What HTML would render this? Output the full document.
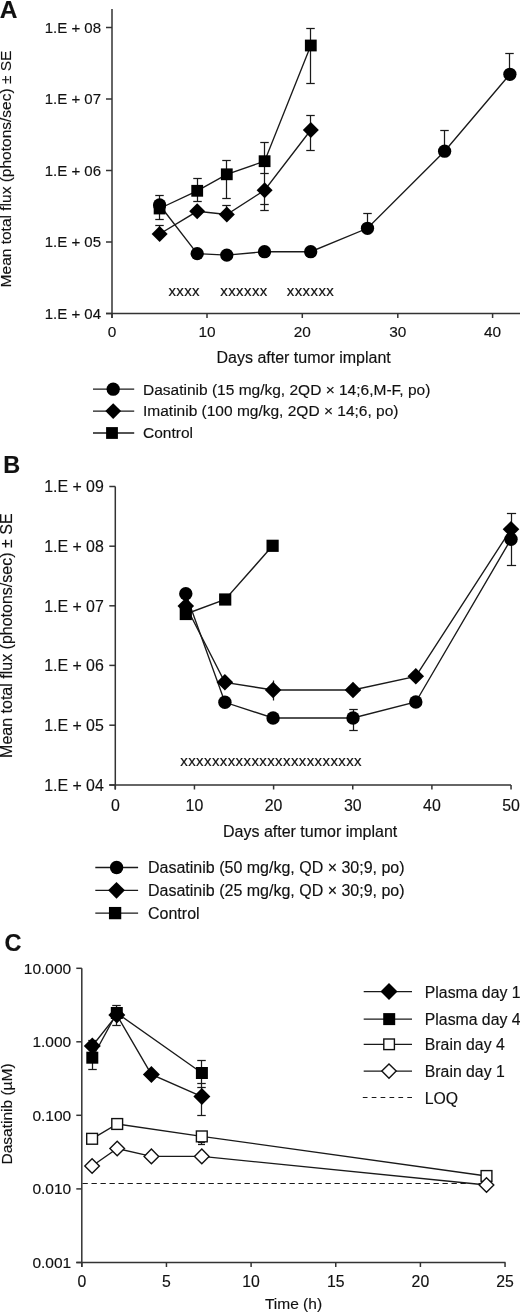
<!DOCTYPE html>
<html><head><meta charset="utf-8"><title>Figure</title>
<style>
html,body{margin:0;padding:0;background:#fff;}
svg{display:block;will-change:transform;}
text{font-family:"Liberation Sans", sans-serif;fill:#111;stroke:#111;stroke-width:0.15px;}
</style></head>
<body>
<svg width="520" height="1313" viewBox="0 0 520 1313">
<rect width="520" height="1313" fill="#fff"/>
<line x1="112" y1="9" x2="112" y2="318.0" stroke="#333" stroke-width="1.5" />
<line x1="106" y1="313.5" x2="520" y2="313.5" stroke="#333" stroke-width="1.5" />
<line x1="106" y1="27.5" x2="112" y2="27.5" stroke="#333" stroke-width="1.5" />
<text x="101" y="32.8" font-size="15" text-anchor="end" font-weight="normal" >1.E + 08</text>
<line x1="106" y1="99" x2="112" y2="99" stroke="#333" stroke-width="1.5" />
<text x="101" y="104.3" font-size="15" text-anchor="end" font-weight="normal" >1.E + 07</text>
<line x1="106" y1="170.5" x2="112" y2="170.5" stroke="#333" stroke-width="1.5" />
<text x="101" y="175.8" font-size="15" text-anchor="end" font-weight="normal" >1.E + 06</text>
<line x1="106" y1="242" x2="112" y2="242" stroke="#333" stroke-width="1.5" />
<text x="101" y="247.3" font-size="15" text-anchor="end" font-weight="normal" >1.E + 05</text>
<line x1="106" y1="313.5" x2="112" y2="313.5" stroke="#333" stroke-width="1.5" />
<text x="101" y="318.8" font-size="15" text-anchor="end" font-weight="normal" >1.E + 04</text>
<line x1="112" y1="313.5" x2="112" y2="318.0" stroke="#333" stroke-width="1.5" />
<text x="112" y="337.2" font-size="15.4" text-anchor="middle" font-weight="normal" >0</text>
<line x1="207" y1="313.5" x2="207" y2="318.0" stroke="#333" stroke-width="1.5" />
<text x="207" y="337.2" font-size="15.4" text-anchor="middle" font-weight="normal" >10</text>
<line x1="302.3" y1="313.5" x2="302.3" y2="318.0" stroke="#333" stroke-width="1.5" />
<text x="302.3" y="337.2" font-size="15.4" text-anchor="middle" font-weight="normal" >20</text>
<line x1="397.8" y1="313.5" x2="397.8" y2="318.0" stroke="#333" stroke-width="1.5" />
<text x="397.8" y="337.2" font-size="15.4" text-anchor="middle" font-weight="normal" >30</text>
<line x1="492.6" y1="313.5" x2="492.6" y2="318.0" stroke="#333" stroke-width="1.5" />
<text x="492.6" y="337.2" font-size="15.4" text-anchor="middle" font-weight="normal" >40</text>
<text x="216.5" y="362.8" font-size="16" text-anchor="start" font-weight="normal" >Days after tumor implant</text>
<text x="168.4" y="295.6" font-size="15" text-anchor="start" font-weight="normal" letter-spacing="0.4">xxxx</text>
<text x="220.3" y="295.6" font-size="15" text-anchor="start" font-weight="normal" letter-spacing="0.4">xxxxxx</text>
<text x="286.8" y="295.6" font-size="15" text-anchor="start" font-weight="normal" letter-spacing="0.4">xxxxxx</text>
<text transform="translate(10.9,287.4) rotate(-90)" font-size="15.5">Mean total flux (photons/sec) ± SE</text>
<text x="-0.3" y="17.8" font-size="24.5" text-anchor="start" font-weight="bold" >A</text>
<line x1="159.5" y1="195.5" x2="159.5" y2="219.5" stroke="#1a1a1a" stroke-width="1.25" />
<line x1="155.25" y1="195.5" x2="163.75" y2="195.5" stroke="#1a1a1a" stroke-width="1.25" />
<line x1="155.25" y1="219.5" x2="163.75" y2="219.5" stroke="#1a1a1a" stroke-width="1.25" />
<line x1="159.5" y1="225.5" x2="159.5" y2="234.5" stroke="#1a1a1a" stroke-width="1.25" />
<line x1="155.25" y1="225.5" x2="163.75" y2="225.5" stroke="#1a1a1a" stroke-width="1.25" />
<line x1="155.25" y1="234.5" x2="163.75" y2="234.5" stroke="#1a1a1a" stroke-width="1.25" />
<line x1="197.5" y1="178.5" x2="197.5" y2="201.5" stroke="#1a1a1a" stroke-width="1.25" />
<line x1="193.25" y1="178.5" x2="201.75" y2="178.5" stroke="#1a1a1a" stroke-width="1.25" />
<line x1="193.25" y1="201.5" x2="201.75" y2="201.5" stroke="#1a1a1a" stroke-width="1.25" />
<line x1="226.5" y1="160.5" x2="226.5" y2="198.5" stroke="#1a1a1a" stroke-width="1.25" />
<line x1="222.25" y1="160.5" x2="230.75" y2="160.5" stroke="#1a1a1a" stroke-width="1.25" />
<line x1="222.25" y1="198.5" x2="230.75" y2="198.5" stroke="#1a1a1a" stroke-width="1.25" />
<line x1="226.5" y1="205.5" x2="226.5" y2="214.5" stroke="#1a1a1a" stroke-width="1.25" />
<line x1="222.25" y1="205.5" x2="230.75" y2="205.5" stroke="#1a1a1a" stroke-width="1.25" />
<line x1="222.25" y1="214.5" x2="230.75" y2="214.5" stroke="#1a1a1a" stroke-width="1.25" />
<line x1="264.5" y1="142.5" x2="264.5" y2="210.5" stroke="#1a1a1a" stroke-width="1.25" />
<line x1="260.25" y1="142.5" x2="268.75" y2="142.5" stroke="#1a1a1a" stroke-width="1.25" />
<line x1="260.25" y1="173.5" x2="268.75" y2="173.5" stroke="#1a1a1a" stroke-width="1.25" />
<line x1="260.25" y1="204.5" x2="268.75" y2="204.5" stroke="#1a1a1a" stroke-width="1.25" />
<line x1="260.25" y1="210.5" x2="268.75" y2="210.5" stroke="#1a1a1a" stroke-width="1.25" />
<line x1="310.5" y1="28.5" x2="310.5" y2="83.5" stroke="#1a1a1a" stroke-width="1.25" />
<line x1="306.25" y1="28.5" x2="314.75" y2="28.5" stroke="#1a1a1a" stroke-width="1.25" />
<line x1="306.25" y1="83.5" x2="314.75" y2="83.5" stroke="#1a1a1a" stroke-width="1.25" />
<line x1="310.5" y1="115.5" x2="310.5" y2="150.5" stroke="#1a1a1a" stroke-width="1.25" />
<line x1="306.25" y1="115.5" x2="314.75" y2="115.5" stroke="#1a1a1a" stroke-width="1.25" />
<line x1="306.25" y1="150.5" x2="314.75" y2="150.5" stroke="#1a1a1a" stroke-width="1.25" />
<line x1="367.5" y1="213.5" x2="367.5" y2="228.5" stroke="#1a1a1a" stroke-width="1.25" />
<line x1="363.25" y1="213.5" x2="371.75" y2="213.5" stroke="#1a1a1a" stroke-width="1.25" />
<line x1="363.25" y1="228.5" x2="371.75" y2="228.5" stroke="#1a1a1a" stroke-width="1.25" />
<line x1="444.5" y1="130.5" x2="444.5" y2="151.5" stroke="#1a1a1a" stroke-width="1.25" />
<line x1="440.25" y1="130.5" x2="448.75" y2="130.5" stroke="#1a1a1a" stroke-width="1.25" />
<line x1="440.25" y1="151.5" x2="448.75" y2="151.5" stroke="#1a1a1a" stroke-width="1.25" />
<line x1="509.5" y1="53.5" x2="509.5" y2="74.5" stroke="#1a1a1a" stroke-width="1.25" />
<line x1="505.25" y1="53.5" x2="513.75" y2="53.5" stroke="#1a1a1a" stroke-width="1.25" />
<line x1="505.25" y1="74.5" x2="513.75" y2="74.5" stroke="#1a1a1a" stroke-width="1.25" />
<polyline points="159.6,205 197.2,253.6 226.8,255.1 264.5,251.7 310.7,251.7 367.5,228.3 444.6,151.2 509.9,74.3" fill="none" stroke="#1a1a1a" stroke-width="1.35"/>
<polyline points="159.6,208.5 197.2,190.8 226.8,174.3 264.6,161.2 310.8,45.5" fill="none" stroke="#1a1a1a" stroke-width="1.35"/>
<polyline points="159.6,234 197.2,211.3 226.8,214.5 264.6,190.2 310.8,130" fill="none" stroke="#1a1a1a" stroke-width="1.35"/>
<circle cx="159.6" cy="205" r="6.65" fill="#000"/>
<circle cx="197.2" cy="253.6" r="6.65" fill="#000"/>
<circle cx="226.8" cy="255.1" r="6.65" fill="#000"/>
<circle cx="264.5" cy="251.7" r="6.65" fill="#000"/>
<circle cx="310.7" cy="251.7" r="6.65" fill="#000"/>
<circle cx="367.5" cy="228.3" r="6.65" fill="#000"/>
<circle cx="444.6" cy="151.2" r="6.65" fill="#000"/>
<circle cx="509.9" cy="74.3" r="6.65" fill="#000"/>
<rect x="153.7" y="202.6" width="11.8" height="11.8" fill="#000"/>
<rect x="191.29999999999998" y="184.9" width="11.8" height="11.8" fill="#000"/>
<rect x="220.9" y="168.4" width="11.8" height="11.8" fill="#000"/>
<rect x="258.70000000000005" y="155.29999999999998" width="11.8" height="11.8" fill="#000"/>
<rect x="304.90000000000003" y="39.6" width="11.8" height="11.8" fill="#000"/>
<polygon points="159.6,226 167.6,234 159.6,242 151.6,234" fill="#000"/>
<polygon points="197.2,203.3 205.2,211.3 197.2,219.3 189.2,211.3" fill="#000"/>
<polygon points="226.8,206.5 234.8,214.5 226.8,222.5 218.8,214.5" fill="#000"/>
<polygon points="264.6,182.2 272.6,190.2 264.6,198.2 256.6,190.2" fill="#000"/>
<polygon points="310.8,122 318.8,130 310.8,138 302.8,130" fill="#000"/>
<line x1="93" y1="389.2" x2="134.2" y2="389.2" stroke="#1a1a1a" stroke-width="1.3" />
<circle cx="113.2" cy="389.2" r="6.65" fill="#000"/>
<text x="143" y="394.5" font-size="15.5" text-anchor="start" font-weight="normal" >Dasatinib (15 mg/kg, 2QD × 14;6,M-F, po)</text>
<line x1="93" y1="411.1" x2="134.2" y2="411.1" stroke="#1a1a1a" stroke-width="1.3" />
<polygon points="113.2,403.20000000000005 121.10000000000001,411.1 113.2,419.0 105.3,411.1" fill="#000"/>
<text x="143" y="416.40000000000003" font-size="15.5" text-anchor="start" font-weight="normal" >Imatinib (100 mg/kg, 2QD × 14;6, po)</text>
<line x1="93" y1="433" x2="134.2" y2="433" stroke="#1a1a1a" stroke-width="1.3" />
<rect x="106.1" y="427.1" width="11.8" height="11.8" fill="#000"/>
<text x="143" y="438.3" font-size="15.5" text-anchor="start" font-weight="normal" >Control</text>
<line x1="115.3" y1="486.5" x2="115.3" y2="789.5" stroke="#333" stroke-width="1.5" />
<line x1="109.3" y1="785" x2="511" y2="785" stroke="#333" stroke-width="1.5" />
<line x1="109.3" y1="486.5" x2="115.3" y2="486.5" stroke="#333" stroke-width="1.5" />
<text x="103.8" y="492.2" font-size="15.9" text-anchor="end" font-weight="normal" >1.E + 09</text>
<line x1="109.3" y1="546.2" x2="115.3" y2="546.2" stroke="#333" stroke-width="1.5" />
<text x="103.8" y="551.9000000000001" font-size="15.9" text-anchor="end" font-weight="normal" >1.E + 08</text>
<line x1="109.3" y1="605.8" x2="115.3" y2="605.8" stroke="#333" stroke-width="1.5" />
<text x="103.8" y="611.5" font-size="15.9" text-anchor="end" font-weight="normal" >1.E + 07</text>
<line x1="109.3" y1="665.4" x2="115.3" y2="665.4" stroke="#333" stroke-width="1.5" />
<text x="103.8" y="671.1" font-size="15.9" text-anchor="end" font-weight="normal" >1.E + 06</text>
<line x1="109.3" y1="725.2" x2="115.3" y2="725.2" stroke="#333" stroke-width="1.5" />
<text x="103.8" y="730.9000000000001" font-size="15.9" text-anchor="end" font-weight="normal" >1.E + 05</text>
<line x1="109.3" y1="785" x2="115.3" y2="785" stroke="#333" stroke-width="1.5" />
<text x="103.8" y="790.7" font-size="15.9" text-anchor="end" font-weight="normal" >1.E + 04</text>
<line x1="115.3" y1="785" x2="115.3" y2="789.5" stroke="#333" stroke-width="1.5" />
<text x="115.3" y="810.5" font-size="15.9" text-anchor="middle" font-weight="normal" >0</text>
<line x1="194.45" y1="785" x2="194.45" y2="789.5" stroke="#333" stroke-width="1.5" />
<text x="194.45" y="810.5" font-size="15.9" text-anchor="middle" font-weight="normal" >10</text>
<line x1="273.6" y1="785" x2="273.6" y2="789.5" stroke="#333" stroke-width="1.5" />
<text x="273.6" y="810.5" font-size="15.9" text-anchor="middle" font-weight="normal" >20</text>
<line x1="352.75" y1="785" x2="352.75" y2="789.5" stroke="#333" stroke-width="1.5" />
<text x="352.75" y="810.5" font-size="15.9" text-anchor="middle" font-weight="normal" >30</text>
<line x1="431.90000000000003" y1="785" x2="431.90000000000003" y2="789.5" stroke="#333" stroke-width="1.5" />
<text x="431.90000000000003" y="810.5" font-size="15.9" text-anchor="middle" font-weight="normal" >40</text>
<line x1="511.05" y1="785" x2="511.05" y2="789.5" stroke="#333" stroke-width="1.5" />
<text x="511.05" y="810.5" font-size="15.9" text-anchor="middle" font-weight="normal" >50</text>
<text x="223" y="836.5" font-size="16" text-anchor="start" font-weight="normal" >Days after tumor implant</text>
<text x="180.3" y="766" font-size="15" text-anchor="start" font-weight="normal" letter-spacing="0.4">xxxxxxxxxxxxxxxxxxxxxxx</text>
<text transform="translate(12.2,757.9) rotate(-90)" font-size="16">Mean total flux (photons/sec) ± SE</text>
<text transform="translate(3.3,472.6) scale(1.02,1)" font-size="23" font-weight="bold">B</text>
<line x1="273.5" y1="680.5" x2="273.5" y2="700.5" stroke="#1a1a1a" stroke-width="1.25" />
<line x1="353.5" y1="709.5" x2="353.5" y2="730.5" stroke="#1a1a1a" stroke-width="1.25" />
<line x1="349.25" y1="709.5" x2="357.75" y2="709.5" stroke="#1a1a1a" stroke-width="1.25" />
<line x1="349.25" y1="730.5" x2="357.75" y2="730.5" stroke="#1a1a1a" stroke-width="1.25" />
<line x1="511.5" y1="513.5" x2="511.5" y2="565.5" stroke="#1a1a1a" stroke-width="1.25" />
<line x1="506.9" y1="513.5" x2="516.1" y2="513.5" stroke="#1a1a1a" stroke-width="1.25" />
<line x1="506.9" y1="565.5" x2="516.1" y2="565.5" stroke="#1a1a1a" stroke-width="1.25" />
<polyline points="185.8,614 225.2,599.5 272.6,545.8" fill="none" stroke="#1a1a1a" stroke-width="1.35"/>
<polyline points="185.8,593.8 224.9,702.3 273.1,718 353,718 415.8,702 511,539.2" fill="none" stroke="#1a1a1a" stroke-width="1.35"/>
<polyline points="185.8,606 224.9,682.3 273.1,690 353,690 415.8,676.3 511,529.2" fill="none" stroke="#1a1a1a" stroke-width="1.35"/>
<circle cx="185.8" cy="593.8" r="6.7" fill="#000"/>
<circle cx="224.9" cy="702.3" r="6.7" fill="#000"/>
<circle cx="273.1" cy="718" r="6.7" fill="#000"/>
<circle cx="353" cy="718" r="6.7" fill="#000"/>
<circle cx="415.8" cy="702" r="6.7" fill="#000"/>
<circle cx="511" cy="539.2" r="6.7" fill="#000"/>
<polygon points="185.8,597.7 194.10000000000002,606 185.8,614.3 177.5,606" fill="#000"/>
<polygon points="224.9,674.0 233.20000000000002,682.3 224.9,690.5999999999999 216.6,682.3" fill="#000"/>
<polygon points="273.1,681.7 281.40000000000003,690 273.1,698.3 264.8,690" fill="#000"/>
<polygon points="353,681.7 361.3,690 353,698.3 344.7,690" fill="#000"/>
<polygon points="415.8,668.0 424.1,676.3 415.8,684.5999999999999 407.5,676.3" fill="#000"/>
<polygon points="511,520.9000000000001 519.3,529.2 511,537.5 502.7,529.2" fill="#000"/>
<rect x="179.70000000000002" y="607.9" width="12.2" height="12.2" fill="#000"/>
<rect x="219.1" y="593.4" width="12.2" height="12.2" fill="#000"/>
<rect x="266.5" y="539.6999999999999" width="12.2" height="12.2" fill="#000"/>
<line x1="95.3" y1="867.5" x2="138.1" y2="867.5" stroke="#1a1a1a" stroke-width="1.3" />
<circle cx="116.6" cy="867.5" r="6.7" fill="#000"/>
<text x="148" y="873.1" font-size="16" text-anchor="start" font-weight="normal" >Dasatinib (50 mg/kg, QD × 30;9, po)</text>
<line x1="95.3" y1="890.3" x2="138.1" y2="890.3" stroke="#1a1a1a" stroke-width="1.3" />
<polygon points="116.5,881.9 124.9,890.3 116.5,898.6999999999999 108.1,890.3" fill="#000"/>
<text x="148" y="895.9" font-size="16" text-anchor="start" font-weight="normal" >Dasatinib (25 mg/kg, QD × 30;9, po)</text>
<line x1="95.3" y1="913.1" x2="138.1" y2="913.1" stroke="#1a1a1a" stroke-width="1.3" />
<rect x="108.94999999999999" y="906.95" width="12.3" height="12.3" fill="#000"/>
<text x="148" y="918.7" font-size="16" text-anchor="start" font-weight="normal" >Control</text>
<line x1="81.8" y1="968.3" x2="81.8" y2="1267.0" stroke="#333" stroke-width="1.5" />
<line x1="76.3" y1="1262.5" x2="505.5" y2="1262.5" stroke="#333" stroke-width="1.5" />
<line x1="76.3" y1="968.3" x2="81.8" y2="968.3" stroke="#333" stroke-width="1.5" />
<text x="71.2" y="973.8" font-size="15.5" text-anchor="end" font-weight="normal" >10.000</text>
<line x1="76.3" y1="1041.8" x2="81.8" y2="1041.8" stroke="#333" stroke-width="1.5" />
<text x="71.2" y="1047.3" font-size="15.5" text-anchor="end" font-weight="normal" >1.000</text>
<line x1="76.3" y1="1115.3" x2="81.8" y2="1115.3" stroke="#333" stroke-width="1.5" />
<text x="71.2" y="1120.8" font-size="15.5" text-anchor="end" font-weight="normal" >0.100</text>
<line x1="76.3" y1="1188.9" x2="81.8" y2="1188.9" stroke="#333" stroke-width="1.5" />
<text x="71.2" y="1194.4" font-size="15.5" text-anchor="end" font-weight="normal" >0.010</text>
<line x1="76.3" y1="1262.5" x2="81.8" y2="1262.5" stroke="#333" stroke-width="1.5" />
<text x="71.2" y="1268.0" font-size="15.5" text-anchor="end" font-weight="normal" >0.001</text>
<line x1="81.8" y1="1262.5" x2="81.8" y2="1267.0" stroke="#333" stroke-width="1.5" />
<text x="81.8" y="1287" font-size="15.8" text-anchor="middle" font-weight="normal" >0</text>
<line x1="166.45" y1="1262.5" x2="166.45" y2="1267.0" stroke="#333" stroke-width="1.5" />
<text x="166.45" y="1287" font-size="15.8" text-anchor="middle" font-weight="normal" >5</text>
<line x1="251.10000000000002" y1="1262.5" x2="251.10000000000002" y2="1267.0" stroke="#333" stroke-width="1.5" />
<text x="251.10000000000002" y="1287" font-size="15.8" text-anchor="middle" font-weight="normal" >10</text>
<line x1="335.75" y1="1262.5" x2="335.75" y2="1267.0" stroke="#333" stroke-width="1.5" />
<text x="335.75" y="1287" font-size="15.8" text-anchor="middle" font-weight="normal" >15</text>
<line x1="420.40000000000003" y1="1262.5" x2="420.40000000000003" y2="1267.0" stroke="#333" stroke-width="1.5" />
<text x="420.40000000000003" y="1287" font-size="15.8" text-anchor="middle" font-weight="normal" >20</text>
<line x1="505.05" y1="1262.5" x2="505.05" y2="1267.0" stroke="#333" stroke-width="1.5" />
<text x="505.05" y="1287" font-size="15.8" text-anchor="middle" font-weight="normal" >25</text>
<text x="293.5" y="1308.8" font-size="15.5" text-anchor="middle" font-weight="normal" >Time (h)</text>
<text transform="translate(12,1164.5) rotate(-90)" font-size="15.5">Dasatinib (µM)</text>
<text transform="translate(4.6,951.2)" font-size="23.5" font-weight="bold">C</text>
<line x1="82.5" y1="1183.5" x2="490" y2="1183.5" stroke="#1a1a1a" stroke-width="1.2" stroke-dasharray="5.3,3.7"/>
<line x1="92.5" y1="1040.5" x2="92.5" y2="1069.5" stroke="#1a1a1a" stroke-width="1.25" />
<line x1="88.25" y1="1040.5" x2="96.75" y2="1040.5" stroke="#1a1a1a" stroke-width="1.25" />
<line x1="88.25" y1="1069.5" x2="96.75" y2="1069.5" stroke="#1a1a1a" stroke-width="1.25" />
<line x1="116.5" y1="1005.5" x2="116.5" y2="1025.5" stroke="#1a1a1a" stroke-width="1.25" />
<line x1="112.25" y1="1005.5" x2="120.75" y2="1005.5" stroke="#1a1a1a" stroke-width="1.25" />
<line x1="112.25" y1="1025.5" x2="120.75" y2="1025.5" stroke="#1a1a1a" stroke-width="1.25" />
<line x1="201.5" y1="1060.5" x2="201.5" y2="1115.5" stroke="#1a1a1a" stroke-width="1.25" />
<line x1="197.25" y1="1060.5" x2="205.75" y2="1060.5" stroke="#1a1a1a" stroke-width="1.25" />
<line x1="197.25" y1="1083.5" x2="205.75" y2="1083.5" stroke="#1a1a1a" stroke-width="1.25" />
<line x1="197.25" y1="1087.5" x2="205.75" y2="1087.5" stroke="#1a1a1a" stroke-width="1.25" />
<line x1="197.25" y1="1115.5" x2="205.75" y2="1115.5" stroke="#1a1a1a" stroke-width="1.25" />
<line x1="201.5" y1="1142.5" x2="201.5" y2="1144.5" stroke="#1a1a1a" stroke-width="1.25" />
<line x1="198.0" y1="1142.5" x2="205.0" y2="1142.5" stroke="#1a1a1a" stroke-width="1.25" />
<line x1="198.0" y1="1144.5" x2="205.0" y2="1144.5" stroke="#1a1a1a" stroke-width="1.25" />
<polyline points="92.3,1046 116.8,1015 151.4,1074.4 201.9,1096.6" fill="none" stroke="#1a1a1a" stroke-width="1.35"/>
<polyline points="92.3,1057.7 116.8,1013 201.9,1073" fill="none" stroke="#1a1a1a" stroke-width="1.35"/>
<polyline points="92.1,1138.8 117.2,1124 201.8,1136.4 486.5,1176" fill="none" stroke="#1a1a1a" stroke-width="1.35"/>
<polyline points="92.1,1166 117.2,1148.5 151.4,1156.4 201.8,1156.4 486.5,1185" fill="none" stroke="#1a1a1a" stroke-width="1.35"/>
<rect x="86.3" y="1051.7" width="12" height="12" fill="#000"/>
<rect x="110.8" y="1007.0" width="12" height="12" fill="#000"/>
<rect x="195.9" y="1067.0" width="12" height="12" fill="#000"/>
<polygon points="92.3,1037.5 100.8,1046 92.3,1054.5 83.8,1046" fill="#000"/>
<polygon points="116.8,1006.5 125.3,1015 116.8,1023.5 108.3,1015" fill="#000"/>
<polygon points="151.4,1065.9 159.9,1074.4 151.4,1082.9 142.9,1074.4" fill="#000"/>
<polygon points="201.9,1088.1 210.4,1096.6 201.9,1105.1 193.4,1096.6" fill="#000"/>
<rect x="86.7" y="1133.4" width="10.799999999999999" height="10.799999999999999" fill="#fff" stroke="#111" stroke-width="1.4"/>
<rect x="111.80000000000001" y="1118.6000000000001" width="10.799999999999999" height="10.799999999999999" fill="#fff" stroke="#111" stroke-width="1.4"/>
<rect x="196.4" y="1131.0000000000002" width="10.799999999999999" height="10.799999999999999" fill="#fff" stroke="#111" stroke-width="1.4"/>
<rect x="481.09999999999997" y="1170.6000000000001" width="10.799999999999999" height="10.799999999999999" fill="#fff" stroke="#111" stroke-width="1.4"/>
<polygon points="92.1,1158.694 99.40599999999999,1166 92.1,1173.306 84.794,1166" fill="#fff" stroke="#111" stroke-width="1.4"/>
<polygon points="117.2,1141.194 124.506,1148.5 117.2,1155.806 109.894,1148.5" fill="#fff" stroke="#111" stroke-width="1.4"/>
<polygon points="151.4,1149.094 158.70600000000002,1156.4 151.4,1163.7060000000001 144.094,1156.4" fill="#fff" stroke="#111" stroke-width="1.4"/>
<polygon points="201.8,1149.094 209.10600000000002,1156.4 201.8,1163.7060000000001 194.494,1156.4" fill="#fff" stroke="#111" stroke-width="1.4"/>
<polygon points="486.5,1177.694 493.806,1185 486.5,1192.306 479.194,1185" fill="#fff" stroke="#111" stroke-width="1.4"/>
<line x1="363.7" y1="991.6" x2="412" y2="991.6" stroke="#1a1a1a" stroke-width="1.2" />
<polygon points="389,983.1 397.5,991.6 389,1000.1 380.5,991.6" fill="#000"/>
<text x="424.8" y="997.6" font-size="15.8" text-anchor="start" font-weight="normal" >Plasma day 1</text>
<line x1="363.7" y1="1019.1" x2="412" y2="1019.1" stroke="#1a1a1a" stroke-width="1.2" />
<rect x="383.2" y="1013.1" width="12" height="12" fill="#000"/>
<text x="424.8" y="1025.1" font-size="15.8" text-anchor="start" font-weight="normal" >Plasma day 4</text>
<line x1="363.7" y1="1044.3" x2="412" y2="1044.3" stroke="#1a1a1a" stroke-width="1.2" />
<rect x="383.8" y="1039.0" width="10.6" height="10.6" fill="#fff" stroke="#111" stroke-width="1.4"/>
<text x="424.8" y="1050.3" font-size="15.8" text-anchor="start" font-weight="normal" >Brain day 4</text>
<line x1="363.7" y1="1071.1" x2="412" y2="1071.1" stroke="#1a1a1a" stroke-width="1.2" />
<polygon points="389,1063.894 396.206,1071.1 389,1078.3059999999998 381.794,1071.1" fill="#fff" stroke="#111" stroke-width="1.4"/>
<text x="424.8" y="1077.1" font-size="15.8" text-anchor="start" font-weight="normal" >Brain day 1</text>
<line x1="362.8" y1="1097.5" x2="413" y2="1097.5" stroke="#1a1a1a" stroke-width="1.2" stroke-dasharray="4.7,4.2"/>
<text x="424.8" y="1104" font-size="15.8" text-anchor="start" font-weight="normal" >LOQ</text>
</svg>
</body></html>
